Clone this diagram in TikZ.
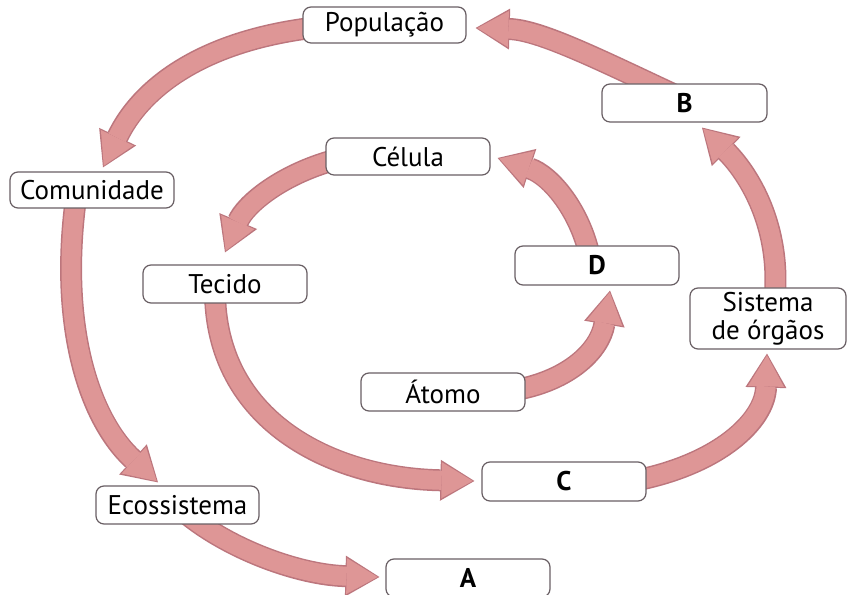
\documentclass[tikz,border=0pt]{standalone}
\usepackage{fontspec}
\setmainfont{PT Sans}
\usetikzlibrary{arrows.meta,backgrounds,calc}
\definecolor{arrowfill}{RGB}{222,150,150}
\definecolor{arrowline}{RGB}{188,118,125}
\definecolor{boxline}{RGB}{105,95,100}
\newcommand\fatarrow[4]{%
  \draw[arrout] #1 .. controls #2 and #3 .. #4;
  \draw[arrin] #1 .. controls #2 and #3 .. #4;}
\begin{document}
\begin{tikzpicture}[x=1bp,y=1bp,
  box/.style={draw=boxline, line width=1.2bp, fill=white, rounded corners=8bp,
    minimum width=164bp, minimum height=38bp, inner sep=0pt,
    font=\fontsize{27bp}{28bp}\selectfont, text=black, align=center},
  arrout/.style={draw=arrowline, line width=22bp,
    -{Triangle[length=34bp,width=41bp,line width=0pt]}},
  arrin/.style={draw=arrowfill, line width=19bp, shorten >=1.8bp,
    -{Triangle[length=31bp,width=36bp,line width=0pt]}}]
\useasboundingbox (0,0) rectangle (847,595);

\node[box, minimum width=163bp, minimum height=36bp] (Pop) at (384.5,570) {População};
\node[box, minimum width=165bp] (B) at (684.5,492) {\textbf{B}};
\node[box, minimum height=37bp] (Cel) at (408,438.5) {Célula};
\node[box, minimum height=36bp] (Com) at (92,405) {Comunidade};
\node[box] (Tec) at (225,311) {Tecido};
\node[box, minimum height=39bp] (D) at (597,329.5) {\textbf{D}};
\node[box, minimum width=156bp, minimum height=61bp] (Sis) at (768,276.5) {Sistema\\de órgãos};
\node[box] (Ato) at (443,203) {Átomo};
\node[box, minimum height=39bp] (C) at (564,113.5) {\textbf{C}};
\node[box, minimum width=163bp] (Eco) at (177.5,90) {Ecossistema};
\node[box] (A) at (468,17) {\textbf{A}};

\begin{scope}[on background layer]
\fill[white] (0,0) rectangle (847,595);
\fatarrow{($(B)+(-9.5,8)$)}{(600,535)}{(540,565)}{($(Pop.east)+(9,-3)$)}
\fatarrow{($(Pop.west)+(17,-2)$)}{(200,555)}{(140,505)}{($(Com.north)+(11,4)$)}
\fatarrow{($(Com.south)+(-17,3)$)}{(60,265)}{(90,175)}{($(Eco.north)+(-19.5,3)$)}
\fatarrow{($(Eco.south)+(7.5,12)$)}{(230,45)}{(300,20)}{($(A.west)+(-6,1)$)}
\fatarrow{($(C.east)+(-16,0)$)}{(720,130)}{(765,175)}{($(Sis.south)+(-1,-4)$)}
\fatarrow{($(Sis.north)+(7,-7)$)}{(780,375)}{(745,425)}{($(B.south)+(17.5,-5)$)}
\fatarrow{($(Tec.south)+(-10,13)$)}{(215,175)}{(330,117)}{($(C.west)+(-7,0.5)$)}
\fatarrow{($(Ato.east)+(-10,2)$)}{(570,215)}{(600,245)}{($(D.south)+(13,-5)$)}
\fatarrow{($(D.north)+(-7,-12)$)}{(580,385)}{(550,420)}{($(Cel.east)+(7,-1.5)$)}
\fatarrow{($(Cel.west)+(9,-3.5)$)}{(280,420)}{(245,390)}{($(Tec.north)+(0,12)$)}
\end{scope}
\end{tikzpicture}
\end{document}
